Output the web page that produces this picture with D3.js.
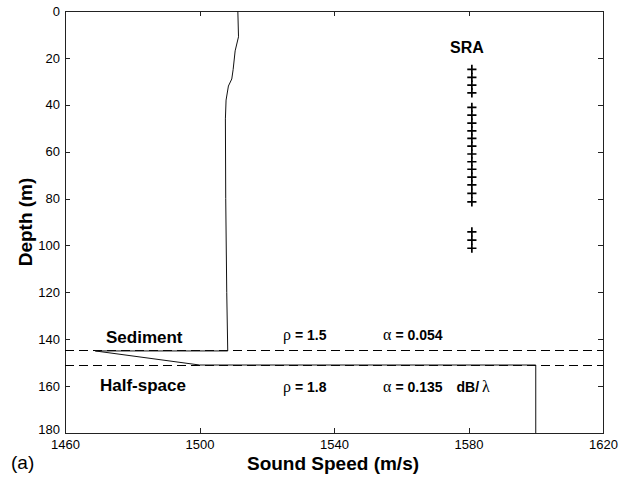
<!DOCTYPE html>
<html><head><meta charset="utf-8">
<script src="https://cdn.jsdelivr.net/npm/d3@7"></script>
<style>
body{margin:0;background:#fff;}
svg{display:block;}
text{font-family:"Liberation Sans",Arial,Helvetica,sans-serif;fill:#000;}
.greek{font-family:"Liberation Serif","DejaVu Serif",serif;}
</style></head>
<body>
<svg id="c" width="631" height="481"></svg>
<script>
// ---- data ----
const xTicks = [1460, 1500, 1540, 1580, 1620];
const yTicks = [0, 20, 40, 60, 80, 100, 120, 140, 160, 180];
// water-column sound speed profile
const waterDepth = [0, 11, 17, 25, 29, 32, 38, 46, 80, 120, 145];
const waterSpeed = [1511.4, 1511.6, 1510.6, 1510.0, 1509.6, 1508.6, 1507.9, 1507.7, 1507.8, 1508.1, 1508.4];
// sediment + half-space profile
const bottomDepth = [145, 145, 151, 151, 180];
const bottomSpeed = [1508.4, 1469, 1500, 1600, 1600];
// layer interfaces (dashed)
const interfaces = [145, 151];
// SRA hydrophone depths
const sraDepth = [24.9, 28.3, 31.6, 34.9,
  41.1, 44.4, 47.8, 51.1, 54.3, 57.6, 61.0, 64.3, 67.5, 70.9, 74.2, 77.8, 81.4,
  94.2, 97.7, 101.2];
const sraSpeed = 1581;

// ---- layout ----
const svg = d3.select("#c");
const L = 65, R = 603, T = 11, B = 433;
const x = d3.scaleLinear().domain([1460, 1620]).range([L, R]);
const y = d3.scaleLinear().domain([0, 180]).range([T, B]);

const g = svg.append("g");

// axes
const tickFont = "13px";
const ax = (sel) => { sel.select(".domain").remove(); sel.selectAll("line").attr("stroke", "#222").attr("shape-rendering", "crispEdges"); sel.selectAll("text").style("font-size", tickFont).attr("fill", "#000"); };
const yAx = g.append("g").attr("transform", `translate(${L},0)`)
  .call(d3.axisLeft(y).tickValues(yTicks).tickSize(-5).tickPadding(5).tickFormat(d3.format("d"))).call(ax);
// last label sits slightly raised, as in the reference
yAx.selectAll(".tick text").filter(d => d === 180).attr("dy", "0.05em");
g.append("g").attr("transform", `translate(${R},0)`)
  .call(d3.axisRight(y).tickValues(yTicks).tickSize(-5).tickFormat("")).call(ax);
g.append("g").attr("transform", `translate(0,${B})`)
  .call(d3.axisBottom(x).tickValues(xTicks).tickSize(-5).tickPadding(7).tickFormat(d3.format("d"))).call(ax);
g.append("g").attr("transform", `translate(0,${T})`)
  .call(d3.axisTop(x).tickValues(xTicks).tickSize(-5).tickFormat("")).call(ax);
svg.selectAll("text").attr("font-family", null);

// frame
g.append("rect").attr("x", L).attr("y", T).attr("width", R - L).attr("height", B - T)
  .attr("fill", "none").attr("stroke", "#222").attr("stroke-width", 1).attr("shape-rendering", "crispEdges");

// dashed interfaces
g.selectAll("line.iface").data(interfaces).enter().append("line")
  .attr("class", "iface")
  .attr("x1", x(1460)).attr("x2", x(1620))
  .attr("y1", d => y(d)).attr("y2", d => y(d))
  .attr("stroke", "#000").attr("stroke-width", 1).attr("stroke-dasharray", "9,5")
  .attr("shape-rendering", "crispEdges");

// profiles
const line = d3.line().x(d => x(d[1])).y(d => y(d[0]));
g.append("path").datum(d3.zip(waterDepth, waterSpeed)).attr("d", line)
  .attr("fill", "none").attr("stroke", "#111").attr("stroke-width", 1);
g.append("path").datum(d3.zip(bottomDepth, bottomSpeed)).attr("d", line)
  .attr("fill", "none").attr("stroke", "#111").attr("stroke-width", 1);

// SRA crosses
const h = 4.6;
g.selectAll("path.sra").data(sraDepth).enter().append("path")
  .attr("class", "sra")
  .attr("d", d => `M${x(sraSpeed) - h},${y(d)}H${x(sraSpeed) + h}M${x(sraSpeed)},${y(d) - h}V${y(d) + h}`)
  .attr("stroke", "#000").attr("stroke-width", 1.7).attr("fill", "none");

g.append("text").attr("x", x(sraSpeed) - 5).attr("y", 53).attr("text-anchor", "middle")
  .style("font-size", "16px").style("font-weight", "bold").text("SRA");

// layer labels
g.append("text").attr("x", 106).attr("y", 343).style("font-size", "17px").style("font-weight", "bold").text("Sediment");
g.append("text").attr("x", 100).attr("y", 391).style("font-size", "17px").style("font-weight", "bold").text("Half-space");

function param(xp, yp, sym, val, unit) {
  const t = g.append("text").attr("x", xp).attr("y", yp).style("font-size", "14px");
  t.append("tspan").attr("class", "greek").style("font-size", "16px").text(sym);
  t.append("tspan").style("font-weight", "bold").attr("dx", 4).text("= " + val);
  if (unit) {
    t.append("tspan").style("font-weight", "bold").attr("dx", 14).text("dB/");
    t.append("tspan").attr("class", "greek").style("font-size", "16px").attr("dx", 3).text("λ");
  }
}
param(283, 340, "ρ", "1.5");
param(383, 340, "α", "0.054");
param(283, 392, "ρ", "1.8");
param(383, 392, "α", "0.135", true);

// axis titles
svg.append("text").attr("x", 333).attr("y", 470).attr("text-anchor", "middle")
  .style("font-size", "19px").style("font-weight", "bold").text("Sound Speed (m/s)");
svg.append("text").attr("transform", `translate(32,${(T + B) / 2}) rotate(-90)`).attr("text-anchor", "middle")
  .style("font-size", "19px").style("font-weight", "bold").text("Depth (m)");
svg.append("text").attr("x", 11).attr("y", 469).style("font-size", "19px").text("(a)");
</script>
</body></html>
